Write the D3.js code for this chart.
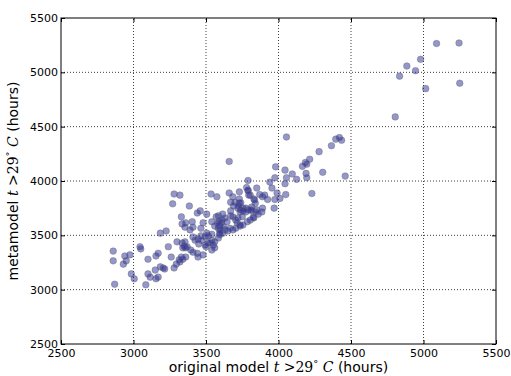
<!DOCTYPE html>
<html><head><meta charset="utf-8">
<script src="https://cdn.jsdelivr.net/npm/d3@7"></script>
<style>body{margin:0;background:#fff}svg{display:block}</style>
</head><body>
<svg id="c" width="511" height="376"></svg>
<script>
const xTicks = [2500, 3000, 3500, 4000, 4500, 5000, 5500];
const yTicks = [2500, 3000, 3500, 4000, 4500, 5000, 5500];
const originalModel = [
2860,2860,2870,2940,2975,2950,2930,2985,3005,3045,3050,3085,3100,3100,3115,3150,3155,3170,3155,3170,3185,3205,3215,3185,3225,3240,3260,3280,3295,3315,3330,3320,3340,3360,3300,3335,3350,3355,3370,3395,3410,3440,3445,3450,3500,3515,
3280,3320,3270,3385,3535,3575,3660,3685,3730,3790,3805,
3460,3440,3330,3335,3360,3355,3405,3410,3390,3480,3465,3505,3540,
3570,3585,3590,3605,3595,3610,3585,3560,
3615,3630,3645,3670,3670,3685,3705,3715,3735,3720,3750,
3670,3700,3730,3720,3740,3755,3775,3790,3815,3850,3830,3730,
3360,3340,3410,3425,3445,3465,
3470,3495,3505,3515,3540,3540,3530,3495,3550,3560,3585,3595,3615,3595,3630,3650,3665,3685,3705,3735,3755,3785,3805,3830,3860,3885,3845,
3480,3540,3560,
4055,3660,4280,4365,4395,4420,4435,4185,4215,4165,4195,3980,4045,4095,4125,4190,4195,4305,4460,4055,3975,3940,3790,4045,3955,3990,3850,4230,4050,4010,3975,3925,3890,3870,3835,3795,3790,3780,
3970,3825,3890,3815,3840,3690,3725,3740,3580,3620,3595,3735,3755,3775,3810,3905,
4805,4835,4885,4945,4980,5015,5090,5245,5250
];
const metamodel = [
3355,3265,3050,3310,3320,3265,3235,3145,3100,3395,3375,3045,3280,3145,3115,3180,3310,3335,3100,3115,3210,3200,3190,3520,3540,3395,3300,3200,3235,3275,3300,3255,3280,3300,3440,3430,3400,3440,3395,3365,3345,3335,3300,3420,3395,3430,
3880,3870,3790,3770,3880,3855,3890,3855,3900,3910,3870,
3725,3705,3670,3605,3615,3575,3625,3575,3550,3615,3565,3695,3625,
3670,3680,3630,3615,3585,3640,3565,3585,
3695,3660,3625,3725,3680,3670,3640,3615,3595,3660,3670,
3805,3805,3795,3750,3735,3750,3750,3735,3760,3735,3835,3835,
3385,3385,3485,3455,3465,3495,
3455,3485,3520,3495,3510,3455,3430,3410,3410,3440,3475,3505,3520,3550,3550,3540,3565,3550,3565,3585,3595,3625,3640,3660,3695,3715,3715,
3320,3365,3385,
4405,4180,4270,4325,4385,4400,4375,4170,4200,4135,4155,4130,4100,4065,4015,4070,4030,4080,4045,4030,4030,3990,4005,3975,3935,3890,3935,3885,3875,3840,3830,3830,3855,3875,3825,3870,3915,3940,
3750,3665,3750,3725,3795,3770,3770,3800,3610,3580,3520,3715,3725,3715,3735,3870,
4590,4965,5058,5015,5120,4850,5265,5270,4900
];

const svg = d3.select('#c');
const x = d3.scaleLinear().domain([2500, 5500]).range([61, 496]);
const y = d3.scaleLinear().domain([2500, 5500]).range([344, 18]);

// grid
const g = svg.append('g');
g.selectAll('.gx').data(xTicks.slice(1, -1)).enter().append('line')
  .attr('x1', d => x(d)).attr('x2', d => x(d)).attr('y1', y(2500)).attr('y2', y(5500))
  .attr('stroke', '#000').attr('stroke-width', 1).attr('stroke-dasharray', '1,2').attr('opacity', 0.75);
g.selectAll('.gy').data(yTicks.slice(1, -1)).enter().append('line')
  .attr('y1', d => y(d)).attr('y2', d => y(d)).attr('x1', x(2500)).attr('x2', x(5500))
  .attr('stroke', '#000').attr('stroke-width', 1).attr('stroke-dasharray', '1,2').attr('opacity', 0.75);

// points
const pts = originalModel.map((v, i) => [v, metamodel[i]]);
svg.append('g').selectAll('circle').data(pts).enter().append('circle')
  .attr('cx', d => x(d[0])).attr('cy', d => y(d[1])).attr('r', 3.3)
  .attr('fill', '#2a2e9a').attr('fill-opacity', 0.5)
  .attr('stroke', '#666').attr('stroke-opacity', 0.45).attr('stroke-width', 0.9);

// axes
const font = 'DejaVu Sans, sans-serif';
function style(sel) {
  sel.select('.domain').remove();
  sel.selectAll('.tick line').attr('stroke', '#000');
  sel.selectAll('text').attr('font-family', font).attr('font-size', 11).attr('fill', '#000');
}
svg.append('g').attr('transform', `translate(0,${y(2500)})`)
  .call(d3.axisBottom(x).tickValues(xTicks).tickFormat(d3.format('d')).tickSize(-4).tickPadding(5)).call(style);
svg.append('g').attr('transform', `translate(${x(2500)},0)`)
  .call(d3.axisLeft(y).tickValues(yTicks).tickFormat(d3.format('d')).tickSize(-4).tickPadding(3)).call(style);
svg.append('g').attr('transform', `translate(0,${y(5500)})`)
  .call(d3.axisTop(x).tickValues(xTicks).tickFormat('').tickSize(-4)).call(style);
svg.append('g').attr('transform', `translate(${x(5500)},0)`)
  .call(d3.axisRight(y).tickValues(yTicks).tickFormat('').tickSize(-4)).call(style);

// frame
svg.append('rect').attr('x', x(2500)).attr('y', y(5500))
  .attr('width', x(5500) - x(2500)).attr('height', y(2500) - y(5500))
  .attr('fill', 'none').attr('stroke', '#000').attr('stroke-width', 1);

// labels
function label(t, pre) {
  t.attr('font-family', font).attr('font-size', 14).attr('fill', '#000').attr('text-anchor', 'middle');
  t.append('tspan').text(pre);
  t.append('tspan').attr('font-family', 'DejaVu Serif, serif').attr('font-style', 'italic').text('t');
  t.append('tspan').attr('font-family', 'DejaVu Serif, serif').text(' >29');
  t.append('tspan').attr('font-family', 'DejaVu Serif, serif').attr('font-size', 10).attr('dy', -5).text('\u00b0');
  t.append('tspan').attr('font-family', 'DejaVu Serif, serif').attr('font-style', 'italic').attr('dy', 5).text(' C');
  t.append('tspan').text(' (hours)');
}
label(svg.append('text').attr('x', (x(2500) + x(5500)) / 2).attr('y', 372), 'original model ');
label(svg.append('text').attr('transform', `translate(18,${(y(2500) + y(5500)) / 2}) rotate(-90)`), 'metamodel ');
</script>
</body></html>
